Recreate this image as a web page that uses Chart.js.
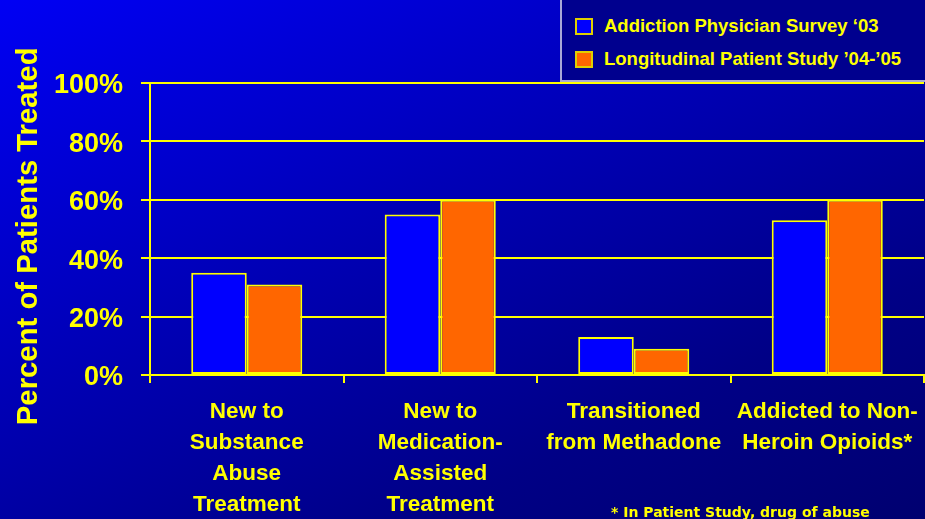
<!DOCTYPE html>
<html>
<head>
<meta charset="utf-8">
<script src="https://cdn.jsdelivr.net/npm/chart.js@4.4.1/dist/chart.umd.min.js"></script>
<style>
    html, body { margin: 0; padding: 0; }
    body {
        width: 925px; height: 519px; overflow: hidden; position: relative;
        background: linear-gradient(155deg, #0000f4 0%, #0000b8 40%, #000086 75%, #000070 100%);
        font-family: 'Liberation Sans', Arial, sans-serif;
    }
    #chart { position: absolute; left: 0; top: 0; }
    #legend {
        position: absolute; left: 560px; top: 0; width: 363px; height: 80px;
        background: #00008e;
        border-left: 2px solid #a9a9d6; border-bottom: 2px solid #a9a9d6;
    }
    .legend-item {
        position: absolute; left: 13px; height: 20px;
        color: #ffff00; font-weight: bold; font-size: 18.5px; line-height: 20px; white-space: nowrap;
    }
    .legend-item .swatch {
        position: absolute; left: 0; top: 2px; width: 14px; height: 13px;
        border: 2px solid #e0d000;
    }
    .legend-item .text { position: absolute; left: 29px; top: 0; }
    #footnote {
        position: absolute; left: 611px; top: 504px;
        color: #ffff00; font-family: 'DejaVu Sans', Verdana, sans-serif;
        font-weight: bold; font-size: 14px; line-height: 17px; white-space: nowrap;
    }
</style>
</head>
<body>
<canvas id="chart" width="925" height="519"></canvas>
<div id="legend"></div>
<div id="footnote">* In Patient Study, drug of abuse</div>
<script>
const categories = [
    ['New to', 'Substance', 'Abuse', 'Treatment'],
    ['New to', 'Medication-', 'Assisted', 'Treatment'],
    ['Transitioned', 'from Methadone'],
    ['Addicted to Non-', 'Heroin Opioids*']
];
const seriesNames = ['Addiction Physician Survey \u201803', 'Longitudinal Patient Study \u201904-\u201905'];
const surveyValues = [35, 55, 13, 53];
const studyValues = [31, 60, 9, 60];
const yTickValues = [0, 20, 40, 60, 80, 100];

const yellow = '#ffff00';
const fontFamily = "'Liberation Sans', Arial, sans-serif";

document.addEventListener('DOMContentLoaded', function() {
    const ctx = document.getElementById('chart');

    const chart = new Chart(ctx, {
        type: 'bar',
        data: {
            labels: categories,
            datasets: [{
                label: seriesNames[0],
                data: surveyValues,
                backgroundColor: '#0000ff',
                borderColor: yellow,
                borderWidth: 2,
                borderSkipped: false
            }, {
                label: seriesNames[1],
                data: studyValues,
                backgroundColor: '#ff6600',
                borderColor: yellow,
                borderWidth: 2,
                borderSkipped: false
            }]
        },
        options: {
            responsive: false,
            animation: false,
            devicePixelRatio: 1,
            layout: { padding: { top: 83, right: 1, left: 0, bottom: 0 } },
            datasets: { bar: { barPercentage: 1, categoryPercentage: 0.574 } },
            plugins: {
                legend: { display: false },
                tooltip: { enabled: false }
            },
            scales: {
                x: {
                    afterFit: function(scale) {
                        // keep the plot running to the right edge like the slide
                        scale.height = 144;
                        scale.paddingLeft = 0;
                        scale.paddingRight = 0;
                    },
                    grid: {
                        display: true,
                        drawOnChartArea: false,
                        drawTicks: true,
                        tickLength: 8,
                        color: yellow,
                        lineWidth: 2
                    },
                    border: { display: true, color: yellow, width: 2 },
                    ticks: {
                        color: yellow,
                        padding: 13,
                        maxRotation: 0,
                        autoSkip: false,
                        font: { family: fontFamily, size: 22.5, weight: 'bold', lineHeight: 1.38 }
                    }
                },
                y: {
                    min: 0,
                    max: 100,
                    afterBuildTicks: function(scale) {
                        scale.ticks = yTickValues.map(v => ({ value: v }));
                    },
                    afterFit: function(scale) {
                        scale.width = 150;
                    },
                    grid: {
                        color: yellow,
                        lineWidth: 2,
                        tickLength: 9
                    },
                    border: { display: true, color: yellow, width: 2 },
                    ticks: {
                        color: yellow,
                        padding: 18,
                        labelOffset: 3,
                        callback: v => v + '%',
                        font: { family: fontFamily, size: 27, weight: 'bold' }
                    },
                    title: {
                        display: true,
                        // trailing en space nudges the rotated title down a little
                        text: 'Percent of Patients Treated\u2002',
                        color: yellow,
                        padding: { top: 11, bottom: 8 },
                        font: { family: fontFamily, size: 29.3, weight: 'bold', lineHeight: 1.2 }
                    }
                }
            }
        }
    });

    // html legend built from the datasets
    const legend = document.getElementById('legend');
    chart.data.datasets.forEach((ds, i) => {
        const item = document.createElement('div');
        item.className = 'legend-item';
        item.style.top = (16 + i * 33) + 'px';
        item.innerHTML = `<span class="swatch" style="background:${ds.backgroundColor}"></span><span class="text">${ds.label}</span>`;
        legend.appendChild(item);
    });
});
</script>
</body>
</html>
